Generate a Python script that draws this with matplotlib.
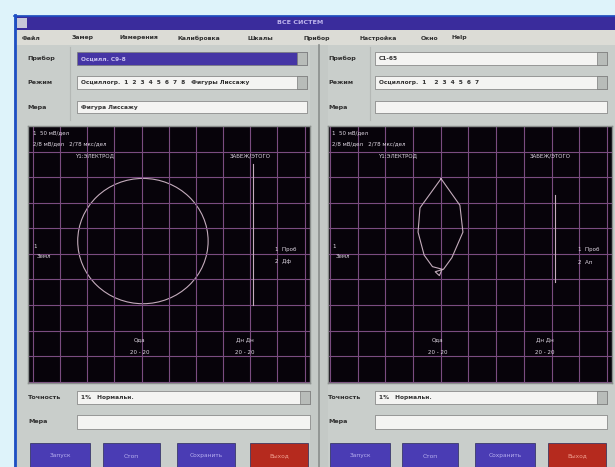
import matplotlib.pyplot as plt
from matplotlib.patches import Rectangle, Ellipse

W, H = 615, 467

# меню и подписи
title = "ВСЕ СИСТЕМ"
menu_items = ["Файл", "Замер", "Измерения", "Калибровка", "Шкалы", "Прибор", "Настройка", "Окно", "Help"]
menu_x = [22, 72, 120, 178, 248, 303, 360, 421, 452]
row_labels = ["Прибор", "Режим", "Мера"]
left_rows = ["Осцилл. С9-8", "Осциллогр.  1  2  3  4  5  6  7  8   Фигуры Лиссажу", "Фигура Лиссажу"]
right_rows = ["С1-65", "Осциллогр.  1    2  3  4  5  6  7", ""]
bottom_labels = ["Точность", "Мера"]
bottom_rows = ["1%   Нормальн.", ""]
buttons = ["Запуск", "Стоп", "Сохранить", "Выход"]

# экранные надписи осциллографа
scr_top = ["1  50 мВ/дел", "2/8 мВ/дел   2/78 мкс/дел"]
scr_heads = ["Y1:ЭЛЕКТРОД", "ЗАБЕЖ/ЭТОГО"]
scr_left = ["1", "Земл"]
scr_right = [["1  Проб", "2  Дф"], ["1  Проб", "2  Ап"]]
scr_bottom = [["Ода", "20 - 20"], ["Дн Дн", "20 - 20"]]

# кривые в делениях сетки
circle_center = (4.05, 5.5)
circle_size = (4.8, 4.9)
left_marker_x = [8.09, 8.09]
left_marker_y = [8.5, 3.0]
fig_x = [4.01, 4.69, 4.80, 4.40, 4.10, 3.80, 3.95, 4.05, 3.70, 3.40, 3.18, 3.25, 4.01]
fig_y = [7.94, 6.90, 5.85, 4.85, 4.40, 4.30, 4.15, 4.40, 4.50, 4.95, 5.85, 6.80, 7.94]
right_marker_x = [8.12, 8.12]
right_marker_y = [7.3, 3.9]

BG = "#def3fa"
PANEL = "#c9cecb"
FIELD = "#f4f4f2"
BLUE = "#4535a5"
SCOPE = "#07030a"
GRID = "#7a4c80"
TRACE = "#c4acbc"
TXT = "#303030"

fig = plt.figure(figsize=(W / 100, H / 100), dpi=100)
fig.patch.set_facecolor(BG)
ui = fig.add_axes([0, 0, 1, 1])
ui.set_xlim(0, W)
ui.set_ylim(H, 0)
ui.axis("off")


def box(x0, y0, x1, y1, fc, ec="none", lw=0.8, z=1):
    ui.add_patch(Rectangle((x0, y0), x1 - x0, y1 - y0, facecolor=fc, edgecolor=ec, lw=lw, zorder=z))


def label(x, y, s, size=4.6, color=TXT, ha="left", weight="bold", ax=None):
    (ax or ui).text(x, y, s, fontsize=size, color=color, ha=ha, va="center",
                    fontweight=weight, transform=ui.transData, zorder=10)


# окно
box(14, 15, W, H, PANEL)
ui.plot([14.5, 14.5], [15, H], color="#1d4fc4", lw=2, zorder=5)
ui.plot([14, W], [15.5, 15.5], color="#1d4fc4", lw=1.2, zorder=5)
box(15, 16, W, 30, "#3a2c9c")
box(17, 18, 27, 28, "#c8c8d8", z=2)
label(300, 23, title, color="#bdb4ec", ha="center")
box(15, 30, W, 45, "#dcdcd6")
for s, x in zip(menu_items, menu_x):
    label(x, 38, s, size=4.4)

# колонка подписей
ui.plot([70, 70], [47, 120], color="#b4b8b5", lw=0.8, zorder=1.5)
ui.plot([370, 370], [47, 120], color="#b4b8b5", lw=0.8, zorder=1.5)

# верхние поля
row_y = [(52, 65), (76, 89), (101, 113)]
for i, ((y0, y1), name) in enumerate(zip(row_y, row_labels)):
    label(27, (y0 + y1) / 2, name)
    label(328, (y0 + y1) / 2, name)
    fc = BLUE if i == 0 else FIELD
    box(77, y0, 307, y1, fc, ec="#7a7a7a", lw=0.5, z=2)
    label(81, (y0 + y1) / 2, left_rows[i], color="#c9c2f0" if i == 0 else TXT, size=4.2)
    box(375, y0, 607, y1, FIELD, ec="#7a7a7a", lw=0.5, z=2)
    label(379, (y0 + y1) / 2, right_rows[i], size=4.2)
    if i < 2:
        box(297, y0, 307, y1, "#b8bcb9", ec="#7a7a7a", lw=0.5, z=3)
        box(597, y0, 607, y1, "#b8bcb9", ec="#7a7a7a", lw=0.5, z=3)

# разделитель панелей
box(310, 45, 328, H, "#c4c9c6")
ui.plot([319, 319], [45, H], color="#8a8e8c", lw=1.2, zorder=4)

# нижние поля
brow_y = [(391, 404), (415, 429)]
for i, ((y0, y1), name) in enumerate(zip(brow_y, bottom_labels)):
    label(28, (y0 + y1) / 2, name)
    label(328, (y0 + y1) / 2, name)
    box(77, y0, 310, y1, FIELD, ec="#7a7a7a", lw=0.5, z=2)
    box(375, y0, 607, y1, FIELD, ec="#7a7a7a", lw=0.5, z=2)
    label(81, (y0 + y1) / 2, bottom_rows[i], size=4.2)
    label(379, (y0 + y1) / 2, bottom_rows[i], size=4.2)
    if i == 0:
        box(300, y0, 310, y1, "#b8bcb9", ec="#7a7a7a", lw=0.5, z=3)
        box(597, y0, 607, y1, "#b8bcb9", ec="#7a7a7a", lw=0.5, z=3)

# кнопки
btn_x = [[(30, 90), (103, 160), (177, 235), (250, 308)],
         [(330, 390), (402, 458), (475, 535), (548, 606)]]
for side in btn_x:
    for (x0, x1), name in zip(side, buttons):
        red = name == buttons[-1]
        box(x0, 443, x1, H, "#b52a1e" if red else "#4a3cb4", ec="#2a2a5a", lw=0.5, z=2)
        label((x0 + x1) / 2, 456, name, size=4.2, ha="center", weight="normal",
              color="#f0a090" if red else "#b8b0f0")


def scope(x0, y0, x1, y1, xlim):
    ax = fig.add_axes([x0 / W, 1 - y1 / H, (x1 - x0) / W, (y1 - y0) / H])
    ax.set_facecolor(SCOPE)
    ax.set_xlim(*xlim)
    ax.set_ylim(-0.05, 10.0)
    for k in range(11):
        ax.axvline(k, color=GRID, lw=0.8)
        ax.axhline(k, color=GRID, lw=0.8)
    ax.set_xticks([])
    ax.set_yticks([])
    for sp in ax.spines.values():
        sp.set_color("#8a8e8c")
        sp.set_linewidth(1)
    return ax


left = scope(28, 126, 310, 383, (-0.18, 10.2))
right = scope(328, 126, 612, 383, (-0.07, 10.18))

left.add_patch(Ellipse(circle_center, *circle_size, fill=False, edgecolor=TRACE, lw=0.8))
left.plot(left_marker_x, left_marker_y, color=TRACE, lw=0.8)
right.plot(fig_x, fig_y, color=TRACE, lw=0.8)
right.plot(right_marker_x, right_marker_y, color=TRACE, lw=0.8)

# надписи на экранах
WT = "#e0d8e4"
for ax, x0, heads, rlab, bx in [(left, 33, (95, 250), scr_right[0], (140, 245)),
                                (right, 332, (398, 550), scr_right[1], (438, 545))]:
    label(x0, 133, scr_top[0], size=4, color=WT, weight="normal", ax=ax)
    label(x0, 144, scr_top[1], size=4, color=WT, weight="normal", ax=ax)
    label(heads[0], 156, scr_heads[0], size=4, color=WT, weight="normal", ha="center", ax=ax)
    label(heads[1], 156, scr_heads[1], size=4, color=WT, weight="normal", ha="center", ax=ax)
    label(x0, 247, scr_left[0], size=4, color=WT, weight="normal", ax=ax)
    label(x0 + 4, 257, scr_left[1], size=4, color=WT, weight="normal", ax=ax)
    rx = 275 if ax is left else 578
    label(rx, 250, rlab[0], size=4, color=WT, weight="normal", ax=ax)
    label(rx, 262, rlab[1], size=4, color=WT, weight="normal", ax=ax)
    for xx, (a, b) in zip(bx, scr_bottom):
        label(xx, 340, a, size=4, color=WT, weight="normal", ha="center", ax=ax)
        label(xx, 353, b, size=4, color=WT, weight="normal", ha="center", ax=ax)

fig.savefig("out.png", dpi=100, facecolor=fig.get_facecolor())
